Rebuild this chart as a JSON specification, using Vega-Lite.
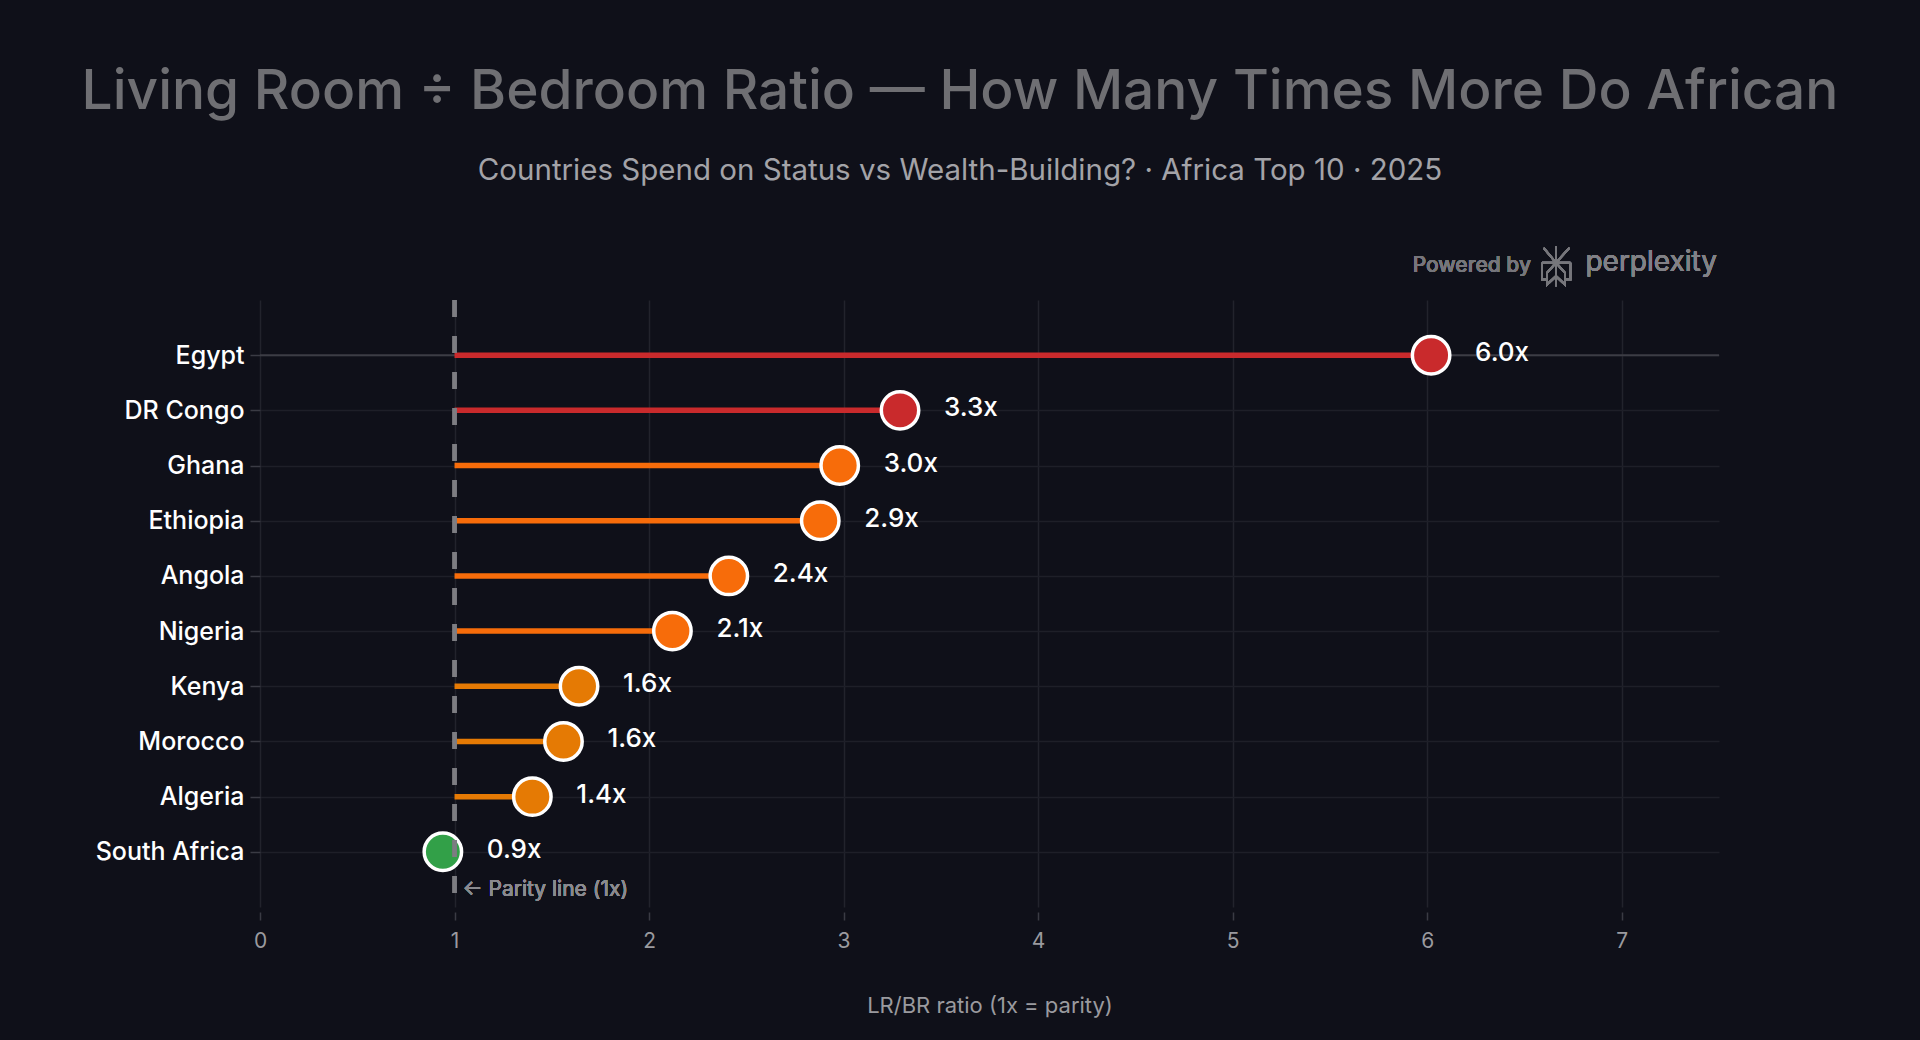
{
  "$schema": "https://vega.github.io/schema/vega-lite/v6.json",
  "autosize": "none",
  "width": 1459,
  "height": 607,
  "padding": {"left": 260, "top": 300, "right": 201, "bottom": 133},
  "background": "#0f1019",
  "title": {
    "text": "Living Room ÷ Bedroom Ratio — How Many Times More Do African",
    "subtitle": "Countries Spend on Status vs Wealth-Building? · Africa Top 10 · 2025",
    "anchor": "middle",
    "frame": "group",
    "dx": -29.5,
    "offset": 55.5,
    "font": "Inter",
    "fontSize": 55,
    "fontWeight": 500,
    "color": "#6f6f73",
    "subtitleFont": "Inter",
    "subtitleFontSize": 29.5,
    "subtitleFontWeight": 400,
    "subtitleColor": "#a3a3a8",
    "subtitlePadding": 36.5
  },
  "data": {
    "values": [
      {"country": "Egypt", "ratio": 6.02, "tier": "Extreme"},
      {"country": "DR Congo", "ratio": 3.29, "tier": "Extreme"},
      {"country": "Ghana", "ratio": 2.98, "tier": "High"},
      {"country": "Ethiopia", "ratio": 2.88, "tier": "High"},
      {"country": "Angola", "ratio": 2.41, "tier": "High"},
      {"country": "Nigeria", "ratio": 2.12, "tier": "High"},
      {"country": "Kenya", "ratio": 1.64, "tier": "Elevated"},
      {"country": "Morocco", "ratio": 1.56, "tier": "Elevated"},
      {"country": "Algeria", "ratio": 1.4, "tier": "Elevated"},
      {"country": "South Africa", "ratio": 0.94, "tier": "Below parity"}
    ]
  },
  "layer": [
    {
      "transform": [{"filter": "datum.country === 'Egypt'"}],
      "mark": {"type": "rule", "color": "#3c3d45", "strokeWidth": 2},
      "encoding": {
        "y": {
          "field": "country",
          "type": "nominal",
          "sort": ["Egypt", "DR Congo", "Ghana", "Ethiopia", "Angola", "Nigeria", "Kenya", "Morocco", "Algeria", "South Africa"],
          "scale": {"type": "point", "padding": 1},
          "axis": {
            "title": null,
            "domain": false,
            "grid": true,
            "gridColor": "#1e1f28",
            "gridWidth": 1.5,
            "ticks": true,
            "tickColor": "#3a3b44",
            "tickSize": 10,
            "tickWidth": 1.5,
            "labelColor": "#ffffff",
            "labelFont": "Inter",
            "labelFontSize": 25,
            "labelFontWeight": 500,
            "labelPadding": 6
          }
        }
      }
    },
    {
      "mark": {"type": "rule", "strokeWidth": 5.5},
      "encoding": {
        "y": {
          "field": "country",
          "type": "nominal",
          "sort": ["Egypt", "DR Congo", "Ghana", "Ethiopia", "Angola", "Nigeria", "Kenya", "Morocco", "Algeria", "South Africa"]
        },
        "x": {
          "field": "ratio",
          "type": "quantitative",
          "scale": {"domain": [0, 7.5], "nice": false, "zero": true},
          "axis": {
            "title": "LR/BR ratio (1x = parity)",
            "values": [0, 1, 2, 3, 4, 5, 6, 7],
            "format": "d",
            "offset": 5,
            "domain": false,
            "grid": true,
            "gridColor": "#22232c",
            "gridWidth": 1.5,
            "tickColor": "#3a3b44",
            "tickSize": 8,
            "tickWidth": 1.5,
            "labelFlush": false,
            "labelColor": "#9a9a9f",
            "labelFont": "Inter",
            "labelFontSize": 21,
            "labelPadding": 10,
            "titleColor": "#9a9a9f",
            "titleFont": "Inter",
            "titleFontSize": 22,
            "titleFontWeight": 400,
            "titlePadding": 44
          }
        },
        "x2": {"datum": 1},
        "color": {
          "field": "tier",
          "type": "nominal",
          "scale": {
            "domain": ["Extreme", "High", "Elevated", "Below parity"],
            "range": ["#c92a2c", "#f76c0a", "#e57a04", "#32a048"]
          },
          "legend": null
        }
      }
    },
    {
      "mark": {"type": "point", "filled": true, "opacity": 1, "size": 1400, "stroke": "#ffffff", "strokeWidth": 3.5, "strokeOpacity": 1},
      "encoding": {
        "y": {
          "field": "country",
          "type": "nominal",
          "sort": ["Egypt", "DR Congo", "Ghana", "Ethiopia", "Angola", "Nigeria", "Kenya", "Morocco", "Algeria", "South Africa"]
        },
        "x": {"field": "ratio", "type": "quantitative"},
        "color": {"field": "tier", "type": "nominal", "legend": null}
      }
    },
    {
      "mark": {"type": "rule", "stroke": "#7d7d82", "strokeWidth": 3.5, "strokeDash": [17, 19]},
      "encoding": {"x": {"datum": 1}}
    },
    {
      "mark": {
        "type": "text",
        "align": "left",
        "baseline": "middle",
        "dx": 44,
        "dy": -2,
        "font": "Inter",
        "fontSize": 26,
        "fontWeight": 500,
        "color": "#ffffff",
        "text": {"expr": "format(datum.ratio, '.1f') + 'x'"}
      },
      "encoding": {
        "y": {
          "field": "country",
          "type": "nominal",
          "sort": ["Egypt", "DR Congo", "Ghana", "Ethiopia", "Angola", "Nigeria", "Kenya", "Morocco", "Algeria", "South Africa"]
        },
        "x": {"field": "ratio", "type": "quantitative"}
      }
    },
    {
      "mark": {"type": "text", "align": "left", "baseline": "middle", "dx": 8, "dy": 38, "font": "Inter", "fontSize": 21, "fontWeight": 400, "color": "#8a8a8f", "text": "← Parity line (1x)"},
      "encoding": {"x": {"datum": 1}, "y": {"datum": "South Africa"}}
    },
    {
      "mark": {"type": "text", "align": "right", "baseline": "middle", "dx": -188, "dy": -89, "font": "Inter", "fontSize": 21, "fontWeight": 500, "color": "#76767b", "text": "Powered by"},
      "encoding": {"x": {"datum": 7.5}, "y": {"datum": "Egypt"}}
    },
    {
      "mark": {"type": "text", "align": "right", "baseline": "middle", "dx": -2, "dy": -92, "font": "Inter", "fontSize": 28, "fontWeight": 400, "color": "#818186", "text": "perplexity"},
      "encoding": {"x": {"datum": 7.5}, "y": {"datum": "Egypt"}}
    },
    {
      "mark": {
        "type": "point",
        "filled": false,
        "size": 1600,
        "stroke": "#76767b",
        "strokeWidth": 2,
        "opacity": 1,
        "xOffset": -163,
        "yOffset": -89,
        "shape": "M0,-1L0,1M-0.62,-0.92L0,-0.17L0.67,-0.92M-0.7,-0.17L0.72,-0.17M-0.7,-0.17L-0.7,0.67L-0.45,0.67M0.72,-0.17L0.72,0.67L0.47,0.67M0,-0.17L-0.45,0.33L-0.45,0.92L0,0.5L0.45,0.92L0.45,0.33L0,-0.17"
      },
      "encoding": {"x": {"datum": 7.5}, "y": {"datum": "Egypt"}}
    }
  ],
  "config": {
    "view": {"stroke": null},
    "font": "Inter"
  }
}
